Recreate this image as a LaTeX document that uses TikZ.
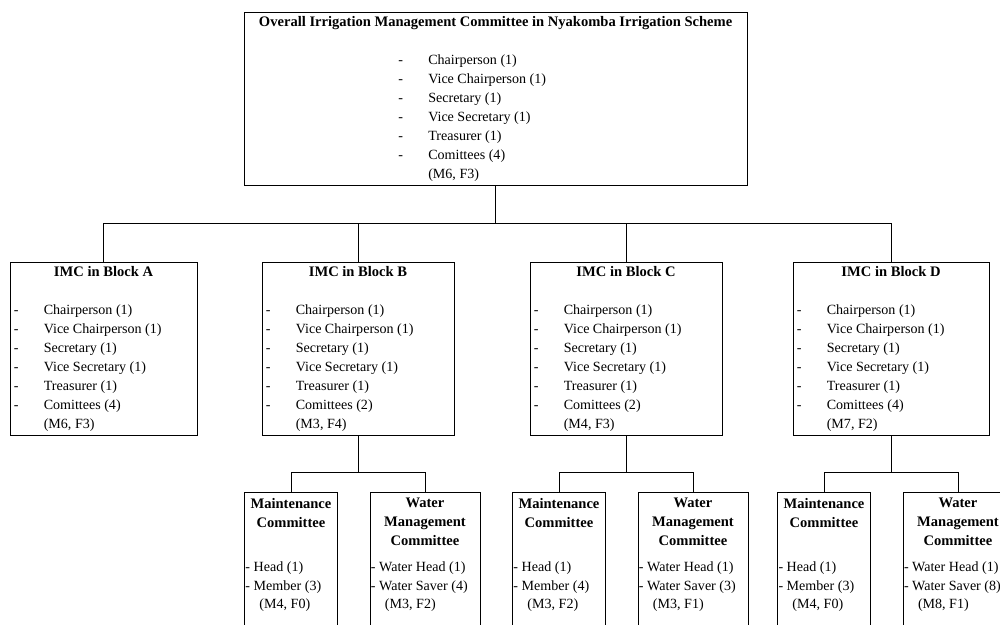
\documentclass[tikz,border=0pt]{standalone}
\usepackage{fontspec}
\setmainfont{Liberation Serif}
\usetikzlibrary{positioning}

% office bearers of one committee: #1 number of committees, #2 gender split
\newcommand{\officers}[2]{%
  \makebox[0.75cm][l]{-}Chairperson (1)\\
  \makebox[0.75cm][l]{-}Vice Chairperson (1)\\
  \makebox[0.75cm][l]{-}Secretary (1)\\
  \makebox[0.75cm][l]{-}Vice Secretary (1)\\
  \makebox[0.75cm][l]{-}Treasurer (1)\\
  \makebox[0.75cm][l]{-}Comittees (#1)\\
  \hspace*{0.75cm}#2}

\begin{document}
\begin{tikzpicture}[frame/.style={draw, line width=0.7pt, inner sep=0pt},
  head/.style={font=\bfseries\fontsize{10.35}{13.5}\selectfont, inner sep=0pt, align=center},
  roles/.style={font=\fontsize{10}{13.5}\selectfont, inner sep=0pt, align=left},
  link/.style={line width=0.7pt}]
 \clip (0,0) rectangle (25,-15.625);
 % scheme level
 \node[frame, minimum width=12.575cm, minimum height=4.325cm] (overall) at (12.39,-2.4625){};
 \node[head, anchor=north] at ([yshift=-0.125cm]overall.north){Overall Irrigation Management Committee in Nyakomba Irrigation Scheme};
 \node[roles, anchor=north west] at ([xshift=-2.44cm,yshift=-1.075cm]overall.north){\officers{4}{(M6, F3)}};
 % block level
 \node[frame, minimum width=4.675cm, minimum height=4.325cm] (blockA) at (2.5875,-8.7125){};
 \node[head, anchor=north] at ([yshift=-0.125cm]blockA.north){IMC in Block A};
 \node[roles, anchor=north west] at ([xshift=0.1cm,yshift=-1.075cm]blockA.north west){\officers{4}{(M6, F3)}};
 \node[frame, minimum width=4.8cm, minimum height=4.325cm] (blockB) at (8.95,-8.7125){};
 \node[head, anchor=north] at ([yshift=-0.125cm]blockB.north){IMC in Block B};
 \node[roles, anchor=north west] at ([xshift=0.1cm,yshift=-1.075cm]blockB.north west){\officers{2}{(M3, F4)}};
 \node[frame, minimum width=4.8cm, minimum height=4.325cm] (blockC) at (15.65,-8.7125){};
 \node[head, anchor=north] at ([yshift=-0.125cm]blockC.north){IMC in Block C};
 \node[roles, anchor=north west] at ([xshift=0.1cm,yshift=-1.075cm]blockC.north west){\officers{2}{(M4, F3)}};
 \node[frame, minimum width=4.9cm, minimum height=4.325cm] (blockD) at (22.275,-8.7125){};
 \node[head, anchor=north] at ([yshift=-0.125cm]blockD.north){IMC in Block D};
 \node[roles, anchor=north west] at ([xshift=0.1cm,yshift=-1.075cm]blockD.north west){\officers{4}{(M7, F2)}};
 % sub-committees of blocks B, C and D
 \node[frame, minimum width=2.325cm, minimum height=3.75cm, anchor=north] (maintB) at (7.275,-12.3){};
 \node[head, anchor=north] at ([yshift=-0.15cm]maintB.north){Maintenance\\Committee};
 \node[roles, anchor=north west] at ([xshift=0.03cm,yshift=-1.725cm]maintB.north west){- Head (1)\\- Member (3)\\\hspace*{0.35cm}(M4, F0)};
 \node[frame, minimum width=2.75cm, minimum height=3.75cm, anchor=north] (waterB) at (10.625,-12.3){};
 \node[head, anchor=north] at ([yshift=-0.15cm]waterB.north){Water\\Management\\Committee};
 \node[roles, anchor=north west] at ([xshift=0.03cm,yshift=-1.725cm]waterB.north west){- Water Head (1)\\- Water Saver (4)\\\hspace*{0.35cm}(M3, F2)};
 \node[frame, minimum width=2.325cm, minimum height=3.75cm, anchor=north] (maintC) at (13.975,-12.3){};
 \node[head, anchor=north] at ([yshift=-0.15cm]maintC.north){Maintenance\\Committee};
 \node[roles, anchor=north west] at ([xshift=0.03cm,yshift=-1.725cm]maintC.north west){- Head (1)\\- Member (4)\\\hspace*{0.35cm}(M3, F2)};
 \node[frame, minimum width=2.75cm, minimum height=3.75cm, anchor=north] (waterC) at (17.325,-12.3){};
 \node[head, anchor=north] at ([yshift=-0.15cm]waterC.north){Water\\Management\\Committee};
 \node[roles, anchor=north west] at ([xshift=0.03cm,yshift=-1.725cm]waterC.north west){- Water Head (1)\\- Water Saver (3)\\\hspace*{0.35cm}(M3, F1)};
 \node[frame, minimum width=2.325cm, minimum height=3.75cm, anchor=north] (maintD) at (20.6,-12.3){};
 \node[head, anchor=north] at ([yshift=-0.15cm]maintD.north){Maintenance\\Committee};
 \node[roles, anchor=north west] at ([xshift=0.03cm,yshift=-1.725cm]maintD.north west){- Head (1)\\- Member (3)\\\hspace*{0.35cm}(M4, F0)};
 \node[frame, minimum width=2.75cm, minimum height=3.75cm, anchor=north] (waterD) at (23.95,-12.3){};
 \node[head, anchor=north] at ([yshift=-0.15cm]waterD.north){Water\\Management\\Committee};
 \node[roles, anchor=north west] at ([xshift=0.03cm,yshift=-1.725cm]waterD.north west){- Water Head (1)\\- Water Saver (8)\\\hspace*{0.35cm}(M8, F1)};
 % connectors
 \draw[link] (overall.south) -- ++(0,-0.95) coordinate (hub);
 \draw[link] (blockA.north) |- (hub) -| (blockD.north);
 \draw[link] (blockB.north) -- (blockB.north |- hub);
 \draw[link] (blockC.north) -- (blockC.north |- hub);
 \draw[link] (blockB.south) -- ++(0,-0.925) coordinate (hubB);
 \draw[link] (maintB.north) |- (hubB) -| (waterB.north);
 \draw[link] (blockC.south) -- ++(0,-0.925) coordinate (hubC);
 \draw[link] (maintC.north) |- (hubC) -| (waterC.north);
 \draw[link] (blockD.south) -- ++(0,-0.925) coordinate (hubD);
 \draw[link] (maintD.north) |- (hubD) -| (waterD.north);
\end{tikzpicture}
\end{document}
